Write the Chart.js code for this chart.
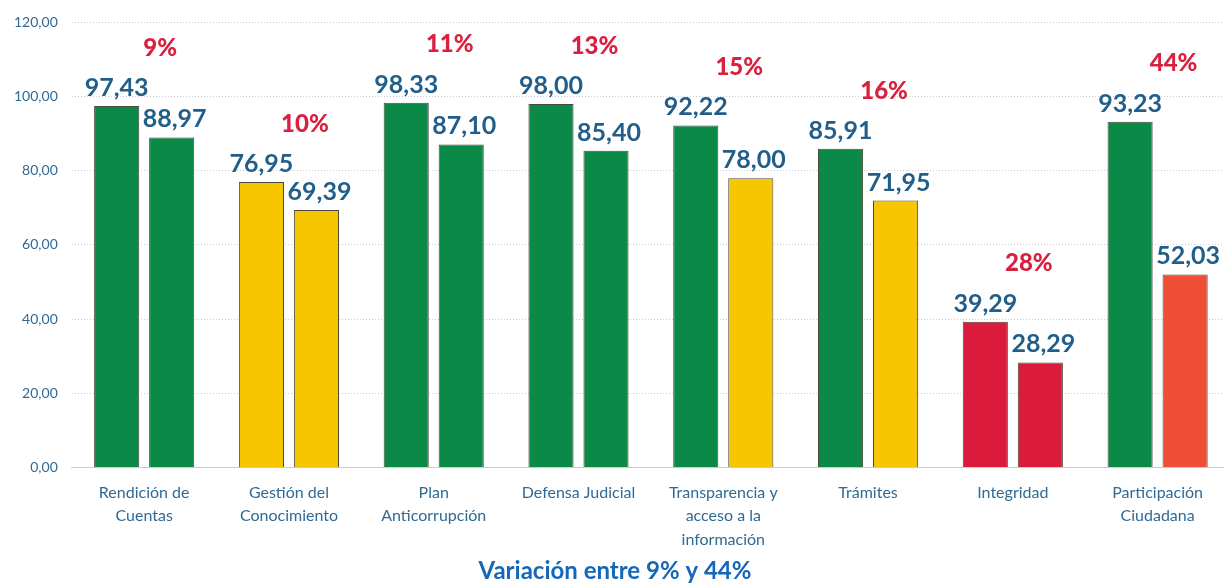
<!DOCTYPE html>
<html>
<head>
<meta charset="utf-8">
<script src="https://cdn.jsdelivr.net/npm/chart.js@4/dist/chart.umd.min.js"></script>
<style>
    html, body { margin: 0; padding: 0; background: #fff; overflow: hidden; }
    #wrap { width: 1230px; height: 585px; }
</style>
</head>
<body>
<div id="wrap"><canvas id="chart"></canvas></div>
<script>
const categories = [
    ["Rendición de", "Cuentas"],
    ["Gestión del", "Conocimiento"],
    ["Plan", "Anticorrupción"],
    ["Defensa Judicial"],
    ["Transparencia y", "acceso a la", "información"],
    ["Trámites"],
    ["Integridad"],
    ["Participación", "Ciudadana"]
];
const firstValues = [97.43, 76.95, 98.33, 98.00, 92.22, 85.91, 39.29, 93.23];
const secondValues = [88.97, 69.39, 87.10, 85.40, 78.00, 71.95, 28.29, 52.03];
const variations = ["9%", "10%", "11%", "13%", "15%", "16%", "28%", "44%"];
const yTicks = [0, 20, 40, 60, 80, 100, 120];

const GREEN = '#0B8A47';
const YELLOW = '#F7C600';
const RED = '#DA1B3B';
const ORANGE = '#EE4D36';
const firstColors = [GREEN, YELLOW, GREEN, GREEN, GREEN, GREEN, RED, GREEN];
const secondColors = [GREEN, YELLOW, GREEN, GREEN, YELLOW, YELLOW, RED, ORANGE];

const FONT = "Lato, 'Open Sans', sans-serif";
const fmt = v => v.toFixed(2).replace('.', ',');

// etiquetas de valor encima de cada barra y porcentaje de variación
const labelsPlugin = {
    id: 'labels',
    afterDatasetsDraw(chart) {
        const ctx = chart.ctx;
        ctx.save();
        ctx.textAlign = 'center';
        ctx.textBaseline = 'alphabetic';
        ctx.font = `bold 25px ${FONT}`;
        ctx.fillStyle = '#215E8A';
        chart.data.datasets.forEach((ds, i) => {
            const meta = chart.getDatasetMeta(i);
            meta.data.forEach((bar, j) => {
                ctx.fillText(fmt(ds.data[j]), bar.x + (i === 1 ? 3 : 0), bar.y - 10);
            });
        });
        const xScale = chart.scales.x;
        const yScale = chart.scales.y;
        ctx.font = `900 24px ${FONT}`;
        ctx.fillStyle = '#D9203F';
        ctx.textBaseline = 'middle';
        variations.forEach((txt, j) => {
            const top = Math.max(firstValues[j], secondValues[j]);
            ctx.fillText(txt, xScale.getPixelForValue(j) + 16, yScale.getPixelForValue(top) - 58);
        });
        ctx.restore();
    }
};

new Chart("chart", {
    type: "bar",
    data: {
        labels: categories,
        datasets: [
            {
                data: firstValues,
                backgroundColor: firstColors,
                borderColor: '#4A4A3C',
                borderWidth: 1,
                categoryPercentage: 0.76,
                barPercentage: 0.82
            },
            {
                data: secondValues,
                backgroundColor: secondColors,
                borderColor: '#4A4A3C',
                borderWidth: 1,
                categoryPercentage: 0.76,
                barPercentage: 0.82
            }
        ]
    },
    options: {
        responsive: true,
        maintainAspectRatio: false,
        animation: false,
        layout: { padding: { top: 2, left: 0, right: 0, bottom: 0 } },
        plugins: {
            legend: { display: false },
            tooltip: { enabled: false },
            title: {
                display: true,
                position: 'bottom',
                text: 'Variación entre 9% y 44%',
                color: '#1467B9',
                font: { family: FONT, size: 24, weight: 'bold', lineHeight: 1 },
                padding: { top: -6, bottom: 2 }
            }
        },
        scales: {
            x: {
                grid: { display: false, drawTicks: false },
                border: { display: true, color: '#C5CCD8', dash: [1, 2] },
                ticks: {
                    color: '#2F6A95',
                    font: { family: FONT, size: 16, lineHeight: 1.45 },
                    padding: 14,
                    maxRotation: 0,
                    autoSkip: false
                }
            },
            y: {
                min: 0,
                max: 120,
                afterBuildTicks: axis => { axis.ticks = yTicks.map(v => ({ value: v })); },
                grid: { color: '#C5CCD8', drawTicks: false },
                border: { display: false, dash: [1, 2] },
                ticks: {
                    color: '#2F6A95',
                    font: { family: FONT, size: 14 },
                    padding: 14,
                    callback: v => fmt(v)
                }
            }
        }
    },
    plugins: [labelsPlugin]
});
</script>
</body>
</html>
